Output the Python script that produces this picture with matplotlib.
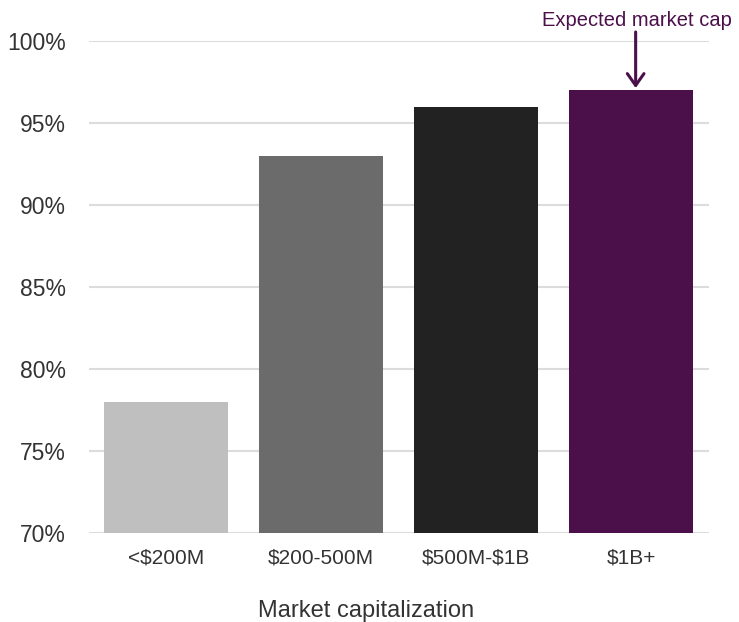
import matplotlib
matplotlib.use("Agg")
import matplotlib.pyplot as plt
from matplotlib.ticker import FuncFormatter

categories = ["<\\$200M", "\\$200-500M", "\\$500M-\\$1B", "\\$1B+"]
values = [78, 93, 96, 97]
colors = ["#bfbfbf", "#6b6b6b", "#222222", "#4b0f4a"]
yticks = [70, 75, 80, 85, 90, 95, 100]
annot_text = "Expected market cap"

plt.rcParams['font.family'] = ['Liberation Sans', 'DejaVu Sans']

W, H = 739, 622
fig = plt.figure(figsize=(W / 100, H / 100), dpi=100)
ax = fig.add_axes([88.5 / W, 1 - 533 / H, 620 / W, 492 / H])

x = list(range(len(categories)))
ax.bar(x, values, width=0.8, color=colors, zorder=3)
ax.set_xlim(-0.5, 3.5)
ax.set_ylim(70, 100)
ax.set_yticks(yticks)
ax.yaxis.set_major_formatter(FuncFormatter(lambda v, p: f"{int(v)}%"))
ax.set_xticks(x)
ax.set_xticklabels(categories)
ax.grid(axis='y', color='#dcdcdc', linewidth=1.5, zorder=0)
ax.set_axisbelow(True)
for s in ax.spines.values():
    s.set_visible(False)
ax.tick_params(axis='both', length=0, labelcolor='#333333')
ax.tick_params(axis='y', pad=16.5, labelsize=16.5)
ax.tick_params(axis='x', pad=11, labelsize=15)

fig.text(366.5 / W, 4.5 / H, "Market capitalization", ha='center', va='baseline',
         fontsize=17, color='#333333')

# annotation arrow and text
ax.annotate("", xy=(3.03, 97.13), xytext=(3.03, 100.55), annotation_clip=False,
            arrowprops=dict(arrowstyle='->,head_length=0.85,head_width=0.6',
                            color='#4b0f4a', lw=2.2, shrinkA=0, shrinkB=0))
ax.text(3.04, 100.9, annot_text, ha='center', va='baseline', fontsize=14.5,
        color='#4b0f4a', clip_on=False)

fig.savefig("out.png", dpi=100)
